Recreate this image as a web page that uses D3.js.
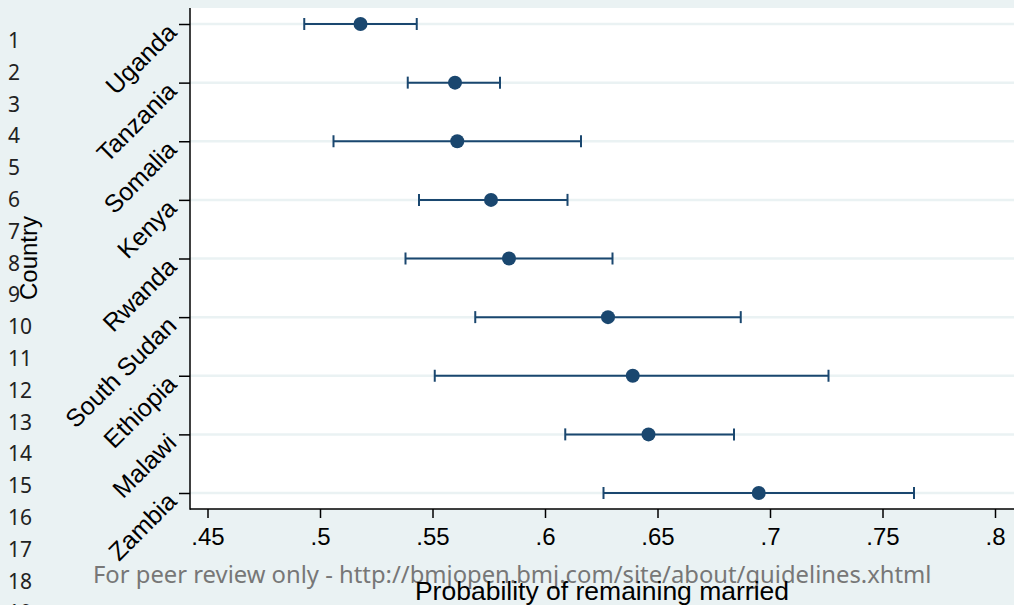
<!DOCTYPE html>
<html><head><meta charset="utf-8">
<script src="https://cdn.jsdelivr.net/npm/d3@7"></script>
<style>html,body{margin:0;padding:0;background:#eaf2f3;}svg{display:block}</style>
</head><body>
<svg id="c" width="1014" height="605"></svg>
<script>
const countries = ["Uganda","Tanzania","Somalia","Kenya","Rwanda","South Sudan","Ethiopia","Malawi","Zambia"];
const estimate = [0.518, 0.560, 0.561, 0.576, 0.584, 0.628, 0.639, 0.646, 0.695];
const lower    = [0.493, 0.539, 0.506, 0.544, 0.538, 0.569, 0.551, 0.609, 0.626];
const upper    = [0.543, 0.580, 0.616, 0.610, 0.630, 0.687, 0.726, 0.684, 0.764];
const xTicks = [0.45,0.5,0.55,0.6,0.65,0.7,0.75,0.8];
const xTickLabels = [".45",".5",".55",".6",".65",".7",".75",".8"];
const lineNumbers = d3.range(1,20);
const watermark = "For peer review only - http://bmjopen.bmj.com/site/about/guidelines.xhtml";

(function(){
const svg = d3.select("#c");
const W=1014,H=605;
const pL=190, pR=1014, pT=8, pB=509;
svg.append("rect").attr("width",W).attr("height",H).attr("fill","#eaf2f3");
svg.append("rect").attr("x",pL).attr("y",pT).attr("width",pR-pL).attr("height",pB-pT).attr("fill","#ffffff");

const x = d3.scaleLinear().domain([0.45,0.8]).range([207.5,995]);
const y = d3.scalePoint().domain(countries).range([24,493]);

// grid
svg.append("g").selectAll("line").data(countries).join("line")
  .attr("x1",pL).attr("x2",pR).attr("y1",d=>y(d)).attr("y2",d=>y(d))
  .attr("stroke","#eaf2f3").attr("stroke-width",2.5);

// axes
const xa = svg.append("g").attr("transform",`translate(0,${pB})`)
  .call(d3.axisBottom(x).tickValues(xTicks).tickFormat((d,i)=>xTickLabels[i]).tickSize(9).tickPadding(10));
xa.select(".domain").remove();
xa.selectAll("line").attr("stroke","#000").attr("stroke-width",1.5);
xa.selectAll("text").attr("font-family","Liberation Sans, Arial").attr("font-size",24).attr("fill","#000");

const ya = svg.append("g").attr("transform",`translate(${pL},0)`)
  .call(d3.axisLeft(y).tickSize(11).tickFormat(""));
ya.select(".domain").remove();
ya.selectAll("line").attr("stroke","#000").attr("stroke-width",1.5);

svg.append("line").attr("x1",pL).attr("x2",pL).attr("y1",pT).attr("y2",pB+0.75).attr("stroke","#000").attr("stroke-width",1.5);
svg.append("line").attr("x1",pL).attr("x2",pR).attr("y1",pB).attr("y2",pB).attr("stroke","#000").attr("stroke-width",1.5);

// country labels
svg.append("g").selectAll("text").data(countries).join("text")
  .attr("transform",d=>`translate(${pL-12},${y(d)+10}) rotate(-45)`)
  .attr("text-anchor","end")
  .attr("font-family","Liberation Sans, Arial").attr("font-size",25).attr("fill","#000")
  .text(d=>d);

// error bars
const col="#1a476f";
const g = svg.append("g");
countries.forEach((c,i)=>{
  const yy=y(c);
  g.append("line").attr("x1",x(lower[i])).attr("x2",x(upper[i])).attr("y1",yy).attr("y2",yy).attr("stroke",col).attr("stroke-width",2);
  [lower[i],upper[i]].forEach(v=>g.append("line").attr("x1",x(v)).attr("x2",x(v)).attr("y1",yy-6).attr("y2",yy+6).attr("stroke",col).attr("stroke-width",2));
  g.append("circle").attr("cx",x(estimate[i])).attr("cy",yy).attr("r",7).attr("fill",col);
});

// axis titles
svg.append("text").attr("transform","translate(37,258) rotate(-90)").attr("text-anchor","middle")
  .attr("font-family","Liberation Sans, Arial").attr("font-size",24).attr("fill","#000").text("Country");

// line numbers
svg.append("g").selectAll("text").data(lineNumbers).join("text")
  .attr("x",8).attr("y",(d,i)=>48+i*31.8)
  .attr("font-family","Noto Sans").attr("font-size",21).attr("fill","#222").text(d=>d);

// watermark
svg.append("text").attr("x",93).attr("y",583)
  .attr("font-family","Noto Sans").attr("font-size",23.8).attr("fill","#777").text(watermark);

svg.append("text").attr("x",602).attr("y",600).attr("text-anchor","middle")
  .attr("font-family","Liberation Sans, Arial").attr("font-size",26.5).attr("fill","#000").text("Probability of remaining married");
})();
</script>
</body></html>
